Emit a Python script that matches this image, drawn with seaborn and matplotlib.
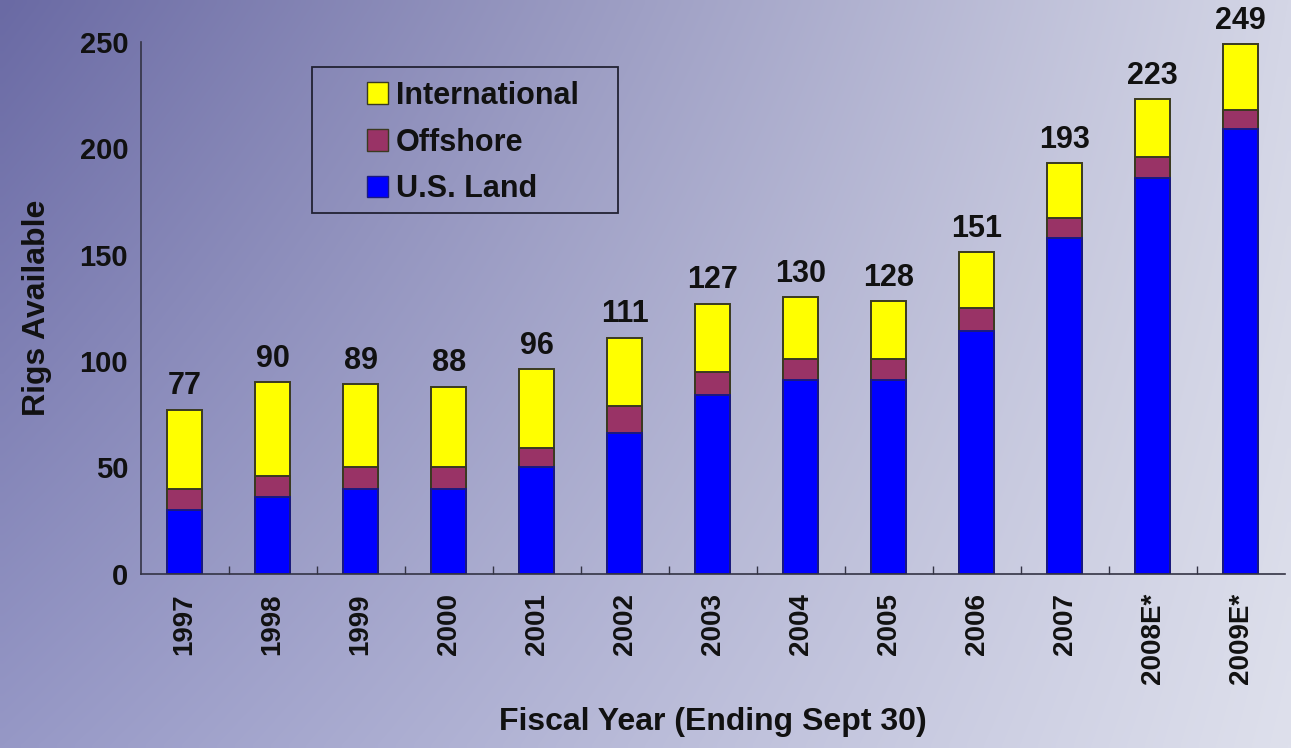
import numpy as np
import pandas as pd
import matplotlib
matplotlib.use("Agg")
import matplotlib.pyplot as plt
from matplotlib.patches import Patch, Rectangle
import seaborn as sns

# Rig counts by fiscal year
years = ["1997", "1998", "1999", "2000", "2001", "2002", "2003",
         "2004", "2005", "2006", "2007", "2008E*", "2009E*"]
us_land = [30, 36, 40, 40, 50, 66, 84, 91, 91, 114, 158, 186, 209]
offshore = [10, 10, 10, 10, 9, 13, 11, 10, 10, 11, 9, 10, 9]
international = [37, 44, 39, 38, 37, 32, 32, 29, 27, 26, 26, 27, 31]
totals = [77, 90, 89, 88, 96, 111, 127, 130, 128, 151, 193, 223, 249]

df = pd.DataFrame({
    "year": years,
    "land": us_land,
    "land_off": np.add(us_land, offshore),
    "total": np.add(np.add(us_land, offshore), international),
})

sns.set_theme(style="white")
plt.rcParams["font.family"] = ["Liberation Sans", "DejaVu Sans"]

W, H, DPI = 1291, 748, 100
fig = plt.figure(figsize=(W / DPI, H / DPI), dpi=DPI)

# Background gradient
bg = fig.add_axes([0, 0, 1, 1], zorder=-10)
nx, ny = 200, 120
xs = np.linspace(0, 1, nx)[None, :, None]
ys = np.linspace(0, 1, ny)[:, None, None]
tl = np.array([106, 106, 164]) / 255
tr = np.array([212, 214, 230]) / 255
bl = np.array([150, 152, 198]) / 255
br = np.array([222, 224, 236]) / 255
grad = (tl * (1 - xs) * (1 - ys) + tr * xs * (1 - ys)
        + bl * (1 - xs) * ys + br * xs * ys)
bg.imshow(grad, aspect="auto", extent=[0, 1, 0, 1], interpolation="bilinear")
bg.axis("off")

ax = fig.add_axes([0.109, 0.233, 0.886, 0.711])
ax.patch.set_alpha(0)

yellow, maroon, blue = "#FFFF00", "#993366", "#0000FF"
edge = "#3a3a20"
w = 0.4
sns.barplot(data=df, x="year", y="total", color=yellow, saturation=1,
            width=w, edgecolor=edge, linewidth=1.4, ax=ax)
sns.barplot(data=df, x="year", y="land_off", color=maroon, saturation=1,
            width=w, edgecolor=edge, linewidth=1.4, ax=ax)
sns.barplot(data=df, x="year", y="land", color=blue, saturation=1,
            width=w, edgecolor="#1a1a80", linewidth=1.4, ax=ax)

for i, t in enumerate(totals):
    ax.text(i, t + 4, str(t), ha="center", va="bottom",
            fontsize=22, fontweight="bold", color="#111111")

ax.set_ylim(0, 250)
ax.set_xlim(-0.5, len(years) - 0.5)
ax.set_yticks([0, 50, 100, 150, 200, 250])
ax.tick_params(axis="y", direction="in", length=6, width=1, color="#333344",
               labelsize=21, pad=9, labelcolor="#111111")
for lab in ax.get_yticklabels():
    lab.set_fontweight("bold")
ax.set_xticks(range(len(years)))
ax.set_xticklabels(years, rotation=90, fontsize=20, fontweight="bold",
                   color="#111111")
ax.tick_params(axis="x", length=0, pad=14)
ax.set_xticks(np.arange(0.5, len(years) - 0.5, 1), minor=True)
ax.tick_params(axis="x", which="minor", direction="in", length=6,
               width=1, color="#333344", bottom=True)

for side in ["top", "right"]:
    ax.spines[side].set_visible(False)
for side in ["left", "bottom"]:
    ax.spines[side].set_color("#333344")
    ax.spines[side].set_linewidth(1.2)

ax.set_xlabel("Fiscal Year (Ending Sept 30)", fontsize=23,
              fontweight="bold", labelpad=16, color="#111111")
ax.set_ylabel("Rigs Available", fontsize=23, fontweight="bold",
              labelpad=20, color="#111111")

handles = [Patch(facecolor=yellow, edgecolor=edge, label="International"),
           Patch(facecolor=maroon, edgecolor=edge, label="Offshore"),
           Patch(facecolor=blue, edgecolor="#1a1a80", label="U.S. Land")]
leg = ax.legend(handles=handles, loc="upper left",
                bbox_to_anchor=(0.284, 0.892),
                bbox_transform=fig.transFigure, frameon=False,
                prop={"size": 22, "weight": "bold"}, handlelength=0.7,
                handleheight=0.7, handletextpad=0.25, labelspacing=0.55,
                borderpad=0, borderaxespad=0)
for t in leg.get_texts():
    t.set_color("#111111")

# legend frame, wider than the entries
fig.patches.append(Rectangle((0.2417, 0.7152), 0.2370, 0.1952, fill=False,
                             edgecolor="#222233", linewidth=1.3,
                             transform=fig.transFigure, zorder=5))

fig.savefig("out.png", dpi=DPI)
